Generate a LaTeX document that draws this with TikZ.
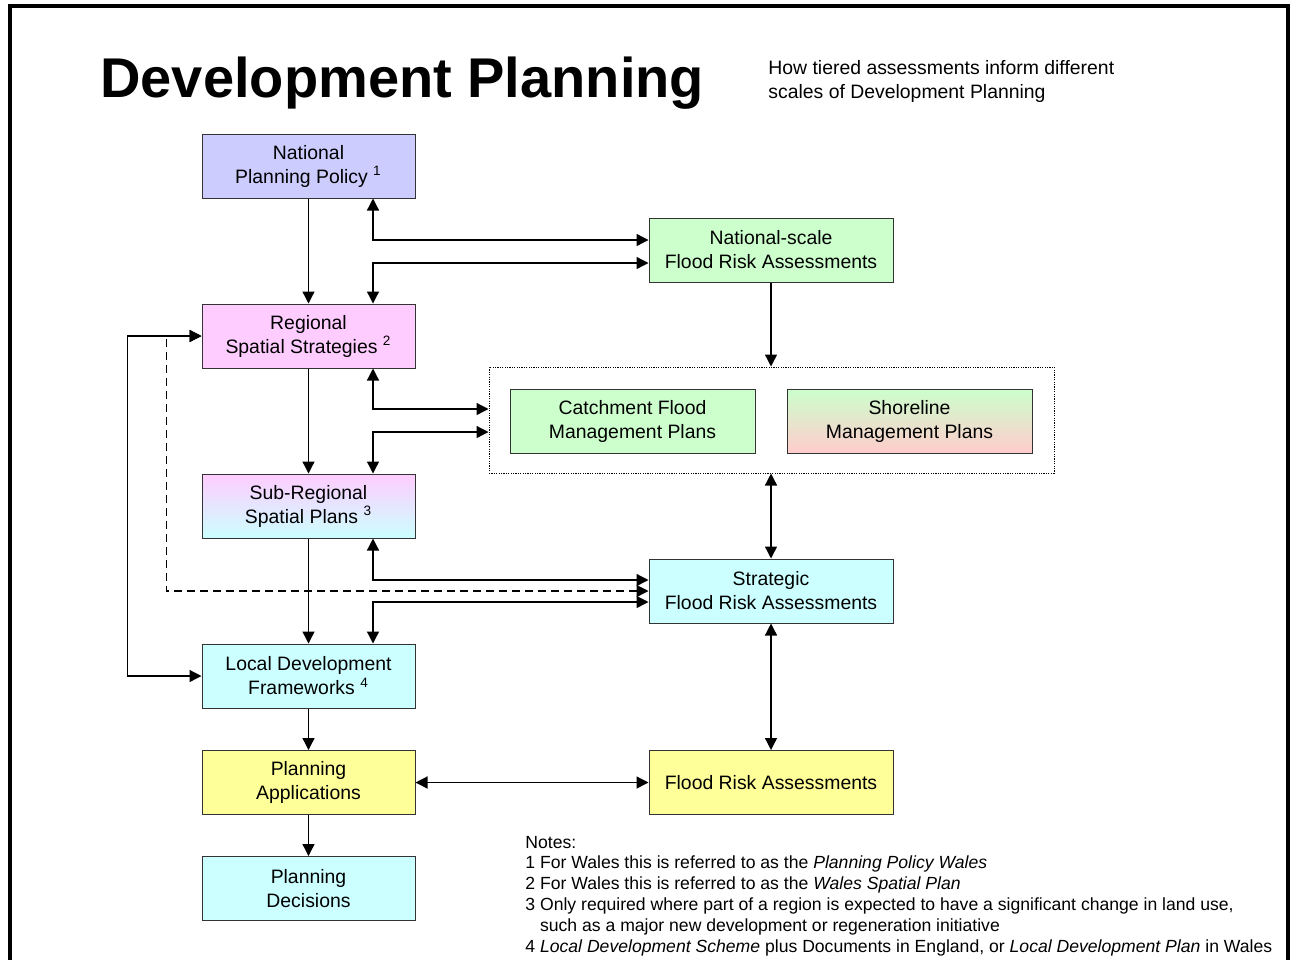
\documentclass[tikz,border=0pt]{standalone}
\usepackage{fontspec}
\setmainfont{Liberation Sans}
\usetikzlibrary{arrows.meta,calc,shadings}

\definecolor{lavender}{HTML}{CCCCFF}
\definecolor{pinkfill}{HTML}{FFCCFF}
\definecolor{cyanfill}{HTML}{CCFFFF}
\definecolor{greenfill}{HTML}{CCFFCC}
\definecolor{yellowfill}{HTML}{FFFF99}
\definecolor{rosefill}{HTML}{FFCCCC}
\definecolor{edge}{HTML}{333333}

\begin{document}
\begin{tikzpicture}[x=0.5pt,y=-0.5pt,
  box/.style={draw=edge,line width=0.5pt,align=center,inner sep=0pt,
    minimum width=106.5pt,minimum height=32pt,
    font=\fontsize{9.7}{12}\selectfont},
  widebox/.style={box,minimum width=122pt},
  one/.style={-{Triangle[length=6pt,width=6pt]},line width=0.65pt},
  both/.style={{Triangle[length=6pt,width=6pt]}-{Triangle[length=6pt,width=6pt]},line width=0.65pt}]
  \useasboundingbox (0,0) rectangle (1293,959);
  % frame
  \draw[line width=2pt] (10,975) -- (10,6) -- (1288,6) -- (1288,975);
  % headings
  \node[anchor=base west,inner sep=0pt,font=\fontsize{28}{30}\bfseries\selectfont] (title) at (100,97) {Development Planning};
  \node[anchor=base west,inner sep=0pt,align=left,font=\fontsize{9.7}{12}\selectfont] (sub) at (768,98)
    {How tiered assessments inform different\\scales of Development Planning};

  % planning column
  \node[box,fill=lavender] (npp) at (308.5,166) {National\\Planning Policy \textsuperscript{1}};
  \node[box,fill=pinkfill] (rss) at (308.5,336) {Regional\\Spatial Strategies \textsuperscript{2}};
  \node[box,top color=pinkfill,bottom color=cyanfill] (srp) at (308.5,506) {Sub-Regional\\Spatial Plans \textsuperscript{3}};
  \node[box,fill=cyanfill] (ldf) at (308.5,676) {Local Development\\Frameworks \textsuperscript{4}};
  \node[box,fill=yellowfill] (pa) at (308.5,782.5) {Planning\\Applications};
  \node[box,fill=cyanfill] (pd) at (308.5,888.5) {Planning\\Decisions};

  % assessment column
  \node[widebox,fill=greenfill] (nfra) at (771,250) {National-scale\\Flood Risk Assessments};
  \node[draw,line width=0.5pt,dash pattern=on 0.6pt off 0.6pt,inner sep=0pt,
    minimum width=282.5pt,minimum height=53pt] (fmp) at (771.5,420) {};
  \node[widebox,minimum width=122.5pt,fill=greenfill] (cfmp) at (632.5,421) {Catchment Flood\\Management Plans};
  \node[widebox,minimum width=122.5pt,top color=greenfill,bottom color=rosefill] (smp) at (909.5,421) {Shoreline\\Management Plans};
  \node[widebox,fill=cyanfill] (sfra) at (771,591) {Strategic\\Flood Risk Assessments};
  \node[widebox,fill=yellowfill] (fra) at (771,782.5) {Flood Risk Assessments};

  % links
  \draw[one] (npp) -- (rss);
  \draw[one] (rss) -- (srp);
  \draw[one] (srp) -- (ldf);
  \draw[one] (ldf) -- (pa);
  \draw[one] (pa) -- (pd);
  \draw[both] ($(npp.south)+(64.5,0)$) |- ($(nfra.west)+(0,-10)$);
  \draw[both] ($(nfra.west)+(0,13)$) -| ($(rss.north)+(64.5,0)$);
  \draw[one] (nfra.south) -- (nfra.south |- fmp.north);
  \draw[both] ($(rss.south)+(64.5,0)$) |- ($(fmp.west)+(0,-11)$);
  \draw[both] ($(fmp.west)+(0,12)$) -| ($(srp.north)+(64.5,0)$);
  \draw[both] (sfra.north |- fmp.south) -- (sfra.north);
  \draw[both] ($(srp.south)+(64.5,0)$) |- ($(sfra.west)+(0,-11)$);
  \draw[both] ($(sfra.west)+(0,11)$) -| ($(ldf.north)+(64.5,0)$);
  \draw[both,dash pattern=on 4pt off 2.5pt] (rss.west) -- ++(-35,0) |- (sfra.west);
  \draw[both] (rss.west) -- ++(-74,0) |- (ldf.west);
  \draw[both] (sfra) -- (fra);
  \draw[both] (pa) -- (fra);

  % notes
  \node[anchor=base west,inner sep=0pt,align=left,font=\fontsize{8.8}{10.4}\selectfont] (notes) at (525,952)
    {Notes:\\
     1 For Wales this is referred to as the \textit{Planning Policy Wales}\\
     2 For Wales this is referred to as the \textit{Wales Spatial Plan}\\
     3 Only required where part of a region is expected to have a significant change in land use,\\
     \phantom{3 }such as a major new development or regeneration initiative\\
     4 \textit{Local Development Scheme} plus Documents in England, or \textit{Local Development Plan} in Wales};
\end{tikzpicture}
\end{document}
